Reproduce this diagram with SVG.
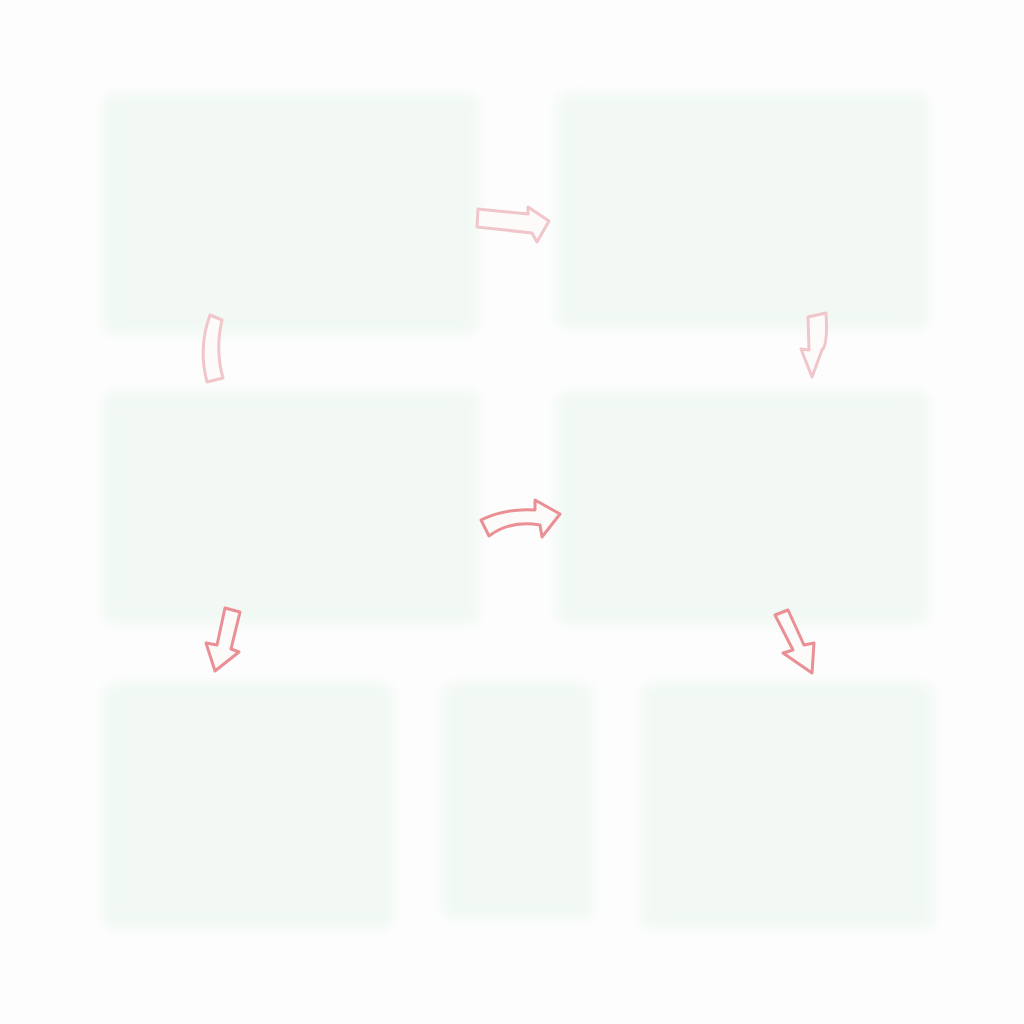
<svg xmlns="http://www.w3.org/2000/svg" width="1024" height="1024" viewBox="0 0 1024 1024">
  <defs>
    <filter id="soft" x="-10%" y="-10%" width="120%" height="120%">
      <feGaussianBlur stdDeviation="6"/>
    </filter>
    <style>
      .box { fill: #f2f9f4; filter: url(#soft); }
      .arr { fill: #fdfafa; stroke-width: 3; stroke-linejoin: round; }
      .faint { stroke: #f0c6ca; }
      .strong { stroke: #ea9094; }
    </style>
  </defs>
  <rect width="1024" height="1024" fill="#fdfdfd"/>

  <g id="node-1"><rect class="box" x="102" y="92" width="378" height="243" rx="14"/></g>
  <g id="node-2"><rect class="box" x="555" y="92" width="375" height="238" rx="14"/></g>
  <g id="node-3"><rect class="box" x="102" y="390" width="378" height="235" rx="14"/></g>
  <g id="node-4"><rect class="box" x="555" y="390" width="375" height="235" rx="14"/></g>
  <g id="node-5"><rect class="box" x="102" y="682" width="292" height="248" rx="14"/></g>
  <g id="node-6"><rect class="box" x="442" y="682" width="152" height="238" rx="12"/></g>
  <g id="node-7"><rect class="box" x="640" y="682" width="295" height="248" rx="14"/></g>

  <g id="connectors">
    <path class="arr faint" d="M478,209 L528,214 L528,207 L549,221 L537,242 L532,233 L477,227 Z"/>
    <path class="arr strong" d="M481,520 Q505,508 535,510 L535,500 L560,514 L542,537 L540,525 Q510,520 489,536 Z"/>
    <path class="arr faint" d="M210,315 L222,320 Q215,350 223,378 L207,382 Q198,348 210,315 Z"/>
    <path class="arr faint" d="M808,317 L826,313 Q828,345 822,350 L812,377 L801,349 L809,350 Z"/>
    <path class="arr strong" d="M225,608 L240,612 L231,649 L239,652 L215,671 L206,643 L217,645 Z"/>
    <path class="arr strong" d="M775,615 L788,610 L804,645 L814,643 L812,673 L783,653 L793,650 Z"/>
  </g>
</svg>
